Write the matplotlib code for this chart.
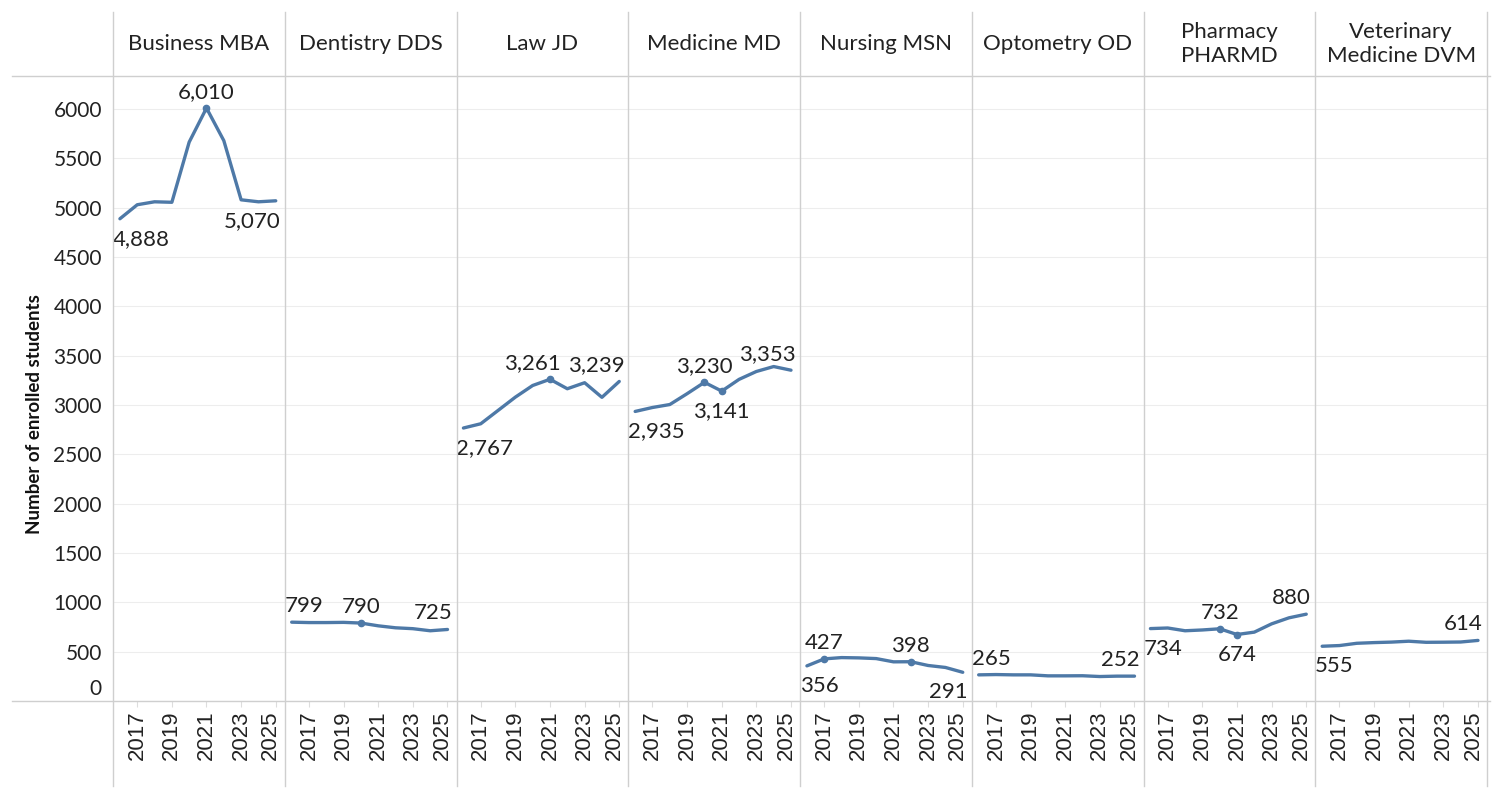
import matplotlib
matplotlib.use('Agg')
import matplotlib.pyplot as plt
import matplotlib.transforms as mtransforms
from matplotlib.lines import Line2D

# data (enrolled students per year)
years = list(range(2016, 2026))
programs = ['Business MBA', 'Dentistry DDS', 'Law JD', 'Medicine MD',
            'Nursing MSN', 'Optometry OD', 'Pharmacy\nPHARMD',
            'Veterinary\nMedicine DVM']

business_mba = [4888, 5030, 5060, 5055, 5665, 6010, 5680, 5080, 5060, 5070]
dentistry_dds = [799, 795, 795, 797, 790, 762, 742, 733, 712, 725]
law_jd = [2767, 2810, 2945, 3080, 3198, 3261, 3165, 3226, 3078, 3239]
medicine_md = [2935, 2975, 3005, 3115, 3230, 3141, 3260, 3340, 3390, 3353]
nursing_msn = [356, 427, 440, 437, 430, 397, 398, 360, 340, 291]
optometry_od = [265, 268, 265, 265, 255, 255, 256, 248, 252, 252]
pharmacy_pharmd = [734, 740, 712, 720, 732, 674, 698, 782, 843, 880]
veterinary_dvm = [555, 562, 585, 592, 597, 606, 595, 596, 598, 614]

series = [business_mba, dentistry_dds, law_jd, medicine_md,
          nursing_msn, optometry_od, pharmacy_pharmd, veterinary_dvm]

y_ticks = list(range(0, 6001, 500))
x_ticks = [2017, 2019, 2021, 2023, 2025]

# which points carry a value label: (index, 'above'/'below', draw dot)
labels = [
    [(0, 'below', False), (5, 'above', True), (9, 'below', False)],
    [(0, 'above', False), (4, 'above', True), (9, 'above', False)],
    [(0, 'below', False), (5, 'above', True), (9, 'above', False)],
    [(0, 'below', False), (4, 'above', True), (5, 'below', True), (9, 'above', False)],
    [(0, 'below', False), (1, 'above', True), (6, 'above', True), (9, 'below', False)],
    [(0, 'above', False), (9, 'above', False)],
    [(0, 'below', False), (4, 'above', True), (5, 'below', True), (9, 'above', False)],
    [(0, 'below', False), (9, 'above', False)],
]
# labels pushed sideways to avoid a neighbour (panel, index) -> px
nudge = {(2, 5): -18}

line_color = '#4e79a7'
text_color = '#222222'
sep_color = '#cfcfcf'
grid_color = '#ededed'
font = 'Lato'

W, H = 1500, 800
fig = plt.figure(figsize=(15, 8), dpi=100)

left_px, right_px = 113, 1487
top_px, bottom_px = 76, 701
pw = (right_px - left_px) / len(programs)


def fx(px):
    return px / W


def fy(py):
    return 1 - py / H


axes = []
for i, (name, vals) in enumerate(zip(programs, series)):
    x0 = left_px + i * pw
    ax = fig.add_axes([fx(x0), fy(bottom_px), pw / W, (bottom_px - top_px) / H])
    axes.append(ax)
    ax.set_xlim(2015.6, 2025.52)
    ax.set_ylim(0, 6335)
    for s in ax.spines.values():
        s.set_visible(False)
    ax.set_yticks(y_ticks)
    ax.yaxis.grid(True, color=grid_color, linewidth=0.8)
    ax.set_axisbelow(True)
    ax.tick_params(axis='y', length=0, labelleft=False)
    ax.set_xticks(x_ticks)
    ax.set_xticklabels([str(y) for y in x_ticks], rotation=90,
                       fontsize=16, color=text_color, family='Liberation Sans')
    ax.tick_params(axis='x', length=4, color='#dddddd', pad=3)
    # last year label sits a little left, like the original
    last = ax.get_xticklabels()[-1]
    last.set_transform(last.get_transform() +
                       mtransforms.ScaledTranslation(-5 / 100, 0, fig.dpi_scale_trans))

    ax.plot(years, vals, color=line_color, linewidth=2.4, solid_capstyle='round',
            solid_joinstyle='round', zorder=3)

    for idx, pos, dot in labels[i]:
        if dot:
            ax.plot(years[idx], vals[idx], 'o', color=line_color, markersize=4.5, zorder=4)
        if idx == 0:
            ha, dx = 'left', -7
        elif idx == len(years) - 1:
            ha, dx = 'right', 5
        else:
            ha, dx = 'center', 0
        dx += nudge.get((i, idx), 0)
        if pos == 'above':
            va, dy = 'bottom', 6
        else:
            va, dy = 'top', -10
        ax.annotate(f'{vals[idx]:,}', (years[idx], vals[idx]),
                    xytext=(dx, dy), textcoords='offset pixels',
                    ha=ha, va=va, fontsize=16, color=text_color,
                    family=font, zorder=5)

    # column header
    fig.text(fx(x0 + pw / 2), fy(44), name, ha='center', va='center',
             fontsize=16, color=text_color, family=font, linespacing=1.25)

# y tick labels on the left of the first panel
ax0 = axes[0]
ax0.tick_params(axis='y', labelleft=True, labelsize=15, labelcolor=text_color, pad=8)
for t in ax0.get_yticklabels():
    t.set_family(font)
ax0.get_yticklabels()[0].set_va('bottom')
ax0.get_yticklabels()[0].set_transform(
    ax0.get_yticklabels()[0].get_transform() +
    mtransforms.ScaledTranslation(0, 2 / 100, fig.dpi_scale_trans))

fig.text(fx(35), fy(414), 'Number of enrolled students', rotation=90,
         ha='center', va='center', fontsize=13.5, fontweight='bold',
         color='#111111', family=font)

# frame lines: panel separators and header/axis rules
for i in range(len(programs) + 1):
    xp = left_px + i * pw
    fig.add_artist(Line2D([fx(xp), fx(xp)], [fy(12), fy(786)],
                          color=sep_color, linewidth=1))
for yp in (top_px, bottom_px):
    fig.add_artist(Line2D([fx(12), fx(1490)], [fy(yp), fy(yp)],
                          color=sep_color, linewidth=1))

fig.savefig('out.png', dpi=100, facecolor='white')
